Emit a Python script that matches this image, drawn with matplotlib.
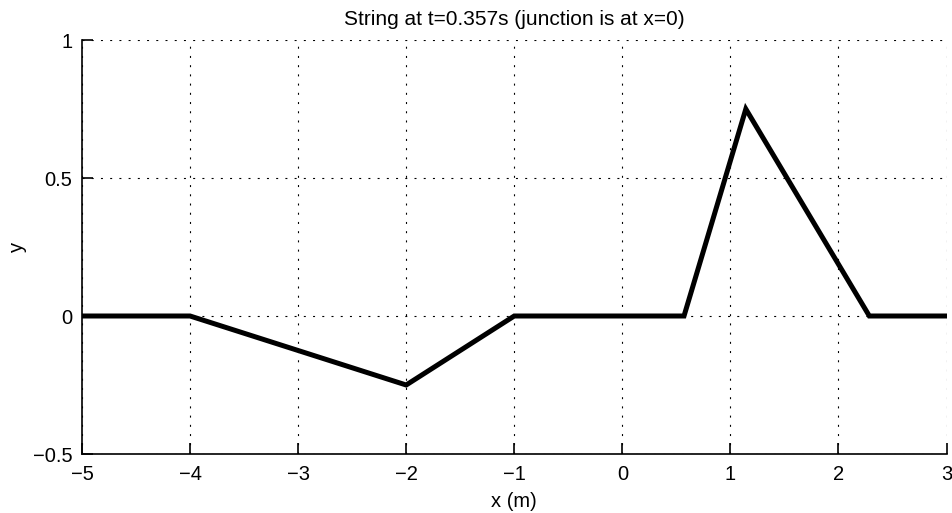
import matplotlib
matplotlib.use("Agg")
import matplotlib.pyplot as plt

# Data: string displacement profile
x_pts = [-5.0, -4.0, -2.0, -1.0, 0.571, 1.143, 2.286, 3.0]
y_pts = [0.0, 0.0, -0.25, 0.0, 0.0, 0.75, 0.0, 0.0]
x_ticks = [-5, -4, -3, -2, -1, 0, 1, 2, 3]
y_ticks = [-0.5, 0, 0.5, 1]
y_tick_labels = ["\u22120.5", "0", "0.5", "1"]
x_tick_labels = ["\u22125", "\u22124", "\u22123", "\u22122", "\u22121", "0", "1", "2", "3"]

plt.rcParams['font.family'] = ['Liberation Sans', 'DejaVu Sans']

fig = plt.figure(figsize=(9.52, 5.13), dpi=100)
ax_w = (946.5 - 82) / 952
ax = fig.add_axes([82/952, 1 - 454/513, ax_w, (454 - 40)/513])

ax.plot(x_pts, y_pts, color='black', linewidth=3.6, solid_joinstyle='miter', zorder=3)

ax.set_xlim(-5, 3)
ax.set_ylim(-0.5, 1)
ax.set_xticks(x_ticks)
ax.set_xticklabels(x_tick_labels)
ax.set_yticks(y_ticks)
ax.set_yticklabels(y_tick_labels)
ax.grid(True, linestyle=(0, (1.8, 6.5)), color='black', linewidth=0.8)
ax.spines['top'].set_visible(False)
ax.spines['right'].set_visible(False)
ax.spines['left'].set_linewidth(1.2)
ax.spines['bottom'].set_linewidth(1.2)
ax.tick_params(axis='both', direction='in', length=8, width=1.2, labelsize=14.5)
ax.tick_params(axis='x', pad=8)
ax.tick_params(axis='y', pad=7)

ax.set_title("String at t=0.357s (junction is at x=0)", fontsize=15, pad=11)
ax.set_xlabel("x (m)", fontsize=14.5, labelpad=6)
ax.set_ylabel("y", fontsize=14.5, va='center')
ax.yaxis.set_label_coords((17 - 82) / 952 / ax_w, 0.5)

fig.savefig("out.png", dpi=100)
